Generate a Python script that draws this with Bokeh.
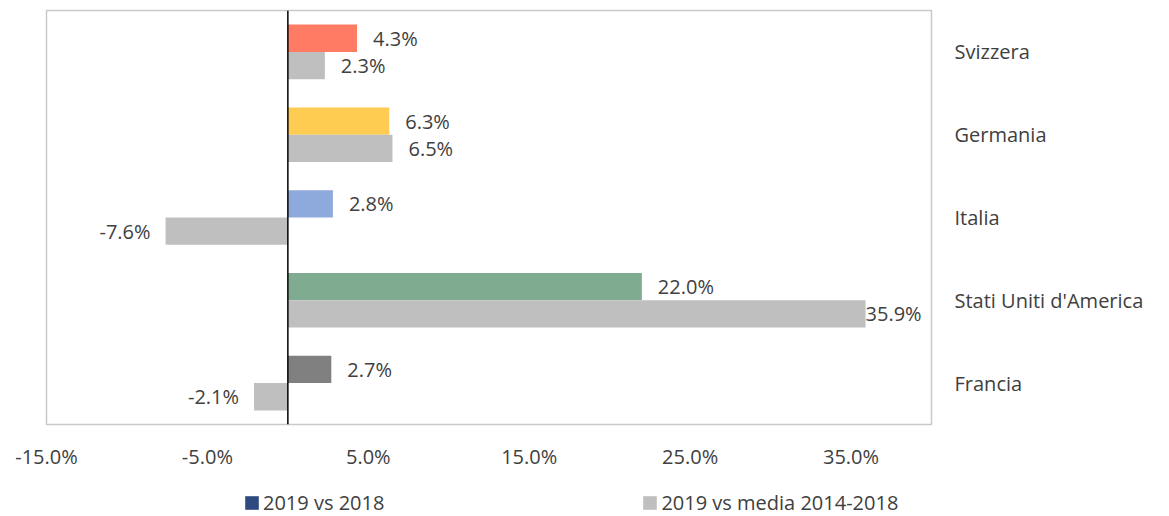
from bokeh.plotting import figure
from bokeh.layouts import column
from bokeh.models import (ColumnDataSource, FactorRange, Range1d, FixedTicker,
                          PrintfTickFormatter, Span, Legend, LegendItem)
from bokeh.transform import dodge
from bokeh.core.properties import value
from bokeh.embed import file_html
from bokeh.resources import INLINE

# ---- data ----
countries = ["Svizzera", "Germania", "Italia", "Stati Uniti d'America", "Francia"]
vs_2018 = [4.3, 6.3, 2.8, 22.0, 2.7]
vs_media = [2.3, 6.5, -7.6, 35.9, -2.1]
bar_colors = ["#FF7B63", "#FFCC52", "#8EA9DB", "#7FAC91", "#808080"]
series_names = ["2019 vs 2018", "2019 vs media 2014-2018"]
x_ticks = [-15, -5, 5, 15, 25, 35]

FONT = "Open Sans"
TXT = "#404040"
GRAY = "#BFBFBF"
NAVY = "#2F4A7F"
FS = "20px"
X_MIN, X_MAX = -15, 40
MAIN_H = 478

p = figure(width=1169, height=MAIN_H, output_backend="svg", toolbar_location=None,
           y_range=FactorRange(factors=list(reversed(countries)), range_padding=0),
           x_range=Range1d(X_MIN, X_MAX), y_axis_location="right",
           min_border_left=46, min_border_top=10, min_border_right=238,
           min_border_bottom=MAIN_H - 424)
p.outline_line_color = "#C9C9C9"
p.outline_line_width = 1.5
p.xgrid.visible = False
p.ygrid.visible = False
p.background_fill_color = "white"
p.border_fill_color = "white"

def label_props(vals, lim):
    offs, aligns = [], []
    for v in vals:
        if v < 0:
            offs.append(-15); aligns.append("right")
        elif v > lim:
            offs.append(0); aligns.append("left")
        else:
            offs.append(16); aligns.append("left")
    return offs, aligns

o1, a1 = label_props(vs_2018, 34)
o2, a2 = label_props(vs_media, 34)
src = ColumnDataSource(dict(
    cat=countries, v1=vs_2018, v2=vs_media, col=bar_colors,
    t1=[f"{v:.1f}%" for v in vs_2018], t2=[f"{v:.1f}%" for v in vs_media],
    o1=o1, a1=a1, o2=o2, a2=a2))

p.hbar(y=dodge("cat", 0.165, range=p.y_range), right="v1", left=0, height=0.33,
       fill_color="col", line_color=None, source=src)
p.hbar(y=dodge("cat", -0.165, range=p.y_range), right="v2", left=0, height=0.33,
       fill_color=GRAY, line_color=None, source=src)

p.text(x="v1", y=dodge("cat", 0.165, range=p.y_range), text="t1", x_offset="o1",
       text_align="a1", text_baseline="middle", text_font=value(FONT),
       text_font_size=FS, text_color=TXT, source=src)
p.text(x="v2", y=dodge("cat", -0.165, range=p.y_range), text="t2", x_offset="o2",
       text_align="a2", text_baseline="middle", text_font=value(FONT),
       text_font_size=FS, text_color=TXT, source=src)

p.add_layout(Span(location=0, dimension="height", line_color="black", line_width=1.5))

# x axis
xa = p.xaxis[0]
xa.ticker = FixedTicker(ticks=x_ticks)
xa.formatter = PrintfTickFormatter(format="%.1f%%")
xa.axis_line_color = None
xa.major_tick_line_color = None
xa.minor_tick_line_color = None
xa.major_label_standoff = 12
xa.major_label_text_font = FONT
xa.major_label_text_font_size = FS
xa.major_label_text_color = TXT

# category axis on the right
ya = p.yaxis[0]
ya.axis_line_color = None
ya.major_tick_line_color = None
ya.minor_tick_line_color = None
ya.major_label_standoff = 17
ya.major_label_text_font = FONT
ya.major_label_text_font_size = FS
ya.major_label_text_color = TXT

# legend strip (separate figure, legend only; its glyph data lies far outside the view)
lf = figure(width=1169, height=516 - MAIN_H, output_backend="svg", toolbar_location=None,
            x_range=Range1d(0, 1), y_range=Range1d(0, 1),
            x_axis_type=None, y_axis_type=None, min_border=0)
lf.outline_line_color = None
lf.grid.visible = False
lf.background_fill_color = "white"
lf.border_fill_color = "white"
hidden = ColumnDataSource(dict(y=[50], l=[-30], r=[-20]))
r_a = lf.hbar(y="y", left="l", right="r", height=0.3, fill_color=NAVY, line_color=None, source=hidden)
r_b = lf.hbar(y="y", left="l", right="r", height=0.3, fill_color=GRAY, line_color=None, source=hidden)
lg = Legend(items=[LegendItem(label=series_names[0], renderers=[r_a]),
                   LegendItem(label=series_names[1], renderers=[r_b])],
            location=(197, 0), orientation="horizontal", border_line_color=None,
            background_fill_alpha=0, padding=0, margin=0, spacing=257,
            glyph_width=17, glyph_height=17, label_standoff=3,
            label_text_font=FONT, label_text_font_size=FS,
            label_text_color=TXT)
lf.add_layout(lg, "center")

open("out.html", "w").write(file_html(column(p, lf, spacing=0), INLINE))
